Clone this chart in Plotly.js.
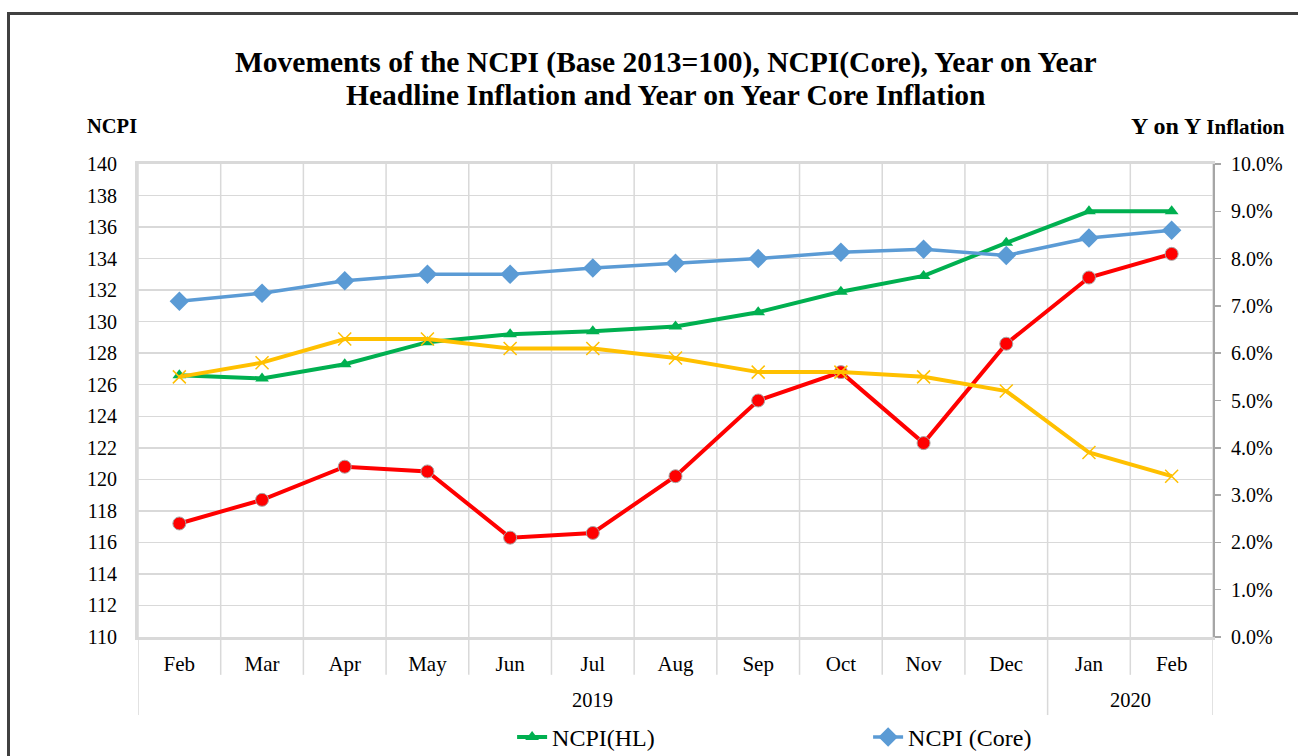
<!DOCTYPE html>
<html>
<head>
<meta charset="utf-8">
<script src="https://cdn.plot.ly/plotly-3.0.1.min.js"></script>
<style>
  html, body { margin: 0; padding: 0; background: #ffffff; overflow: hidden; width: 1298px; height: 756px; }
  #frame { position: absolute; left: 7px; top: 12px; width: 1400px; height: 900px; border: 3px solid #404040; box-sizing: border-box; pointer-events: none; z-index: 2; }
  #chart { position: absolute; left: 0; top: 0; width: 1298px; height: 756px; z-index: 1; }
</style>
</head>
<body>
<div id="frame"></div>
<div id="chart"></div>
<script>
// ---- data ----
const months = ["Feb","Mar","Apr","May","Jun","Jul","Aug","Sep","Oct","Nov","Dec","Jan","Feb"];
const years = [
  {label: "2019", first: 0, last: 10},
  {label: "2020", first: 11, last: 12}
];
const ncpiHL   = [126.6,126.4,127.3,128.7,129.2,129.4,129.7,130.6,131.9,132.9,135.0,137.0,137.0];
const ncpiCore = [131.3,131.8,132.6,133.0,133.0,133.4,133.7,134.0,134.4,134.6,134.2,135.3,135.8];
const yoyHL    = [2.4,2.9,3.6,3.5,2.1,2.2,3.4,5.0,5.6,4.1,6.2,7.6,8.1];   // %
const yoyCore  = [5.5,5.8,6.3,6.3,6.1,6.1,5.9,5.6,5.6,5.5,5.2,3.9,3.4];   // %
const seriesNames = ["NCPI(HL)", "NCPI (Core)", "Y on Y Headline Inflation", "Y on Y Core Inflation"];
const titleLines = ["Movements of the NCPI (Base 2013=100), NCPI(Core), Year on Year",
                    "Headline Inflation and Year on Year Core Inflation"];

// ---- build ----
const xs = months.map((m, i) => i);
const FONT = "Liberation Serif, 'Times New Roman', serif";
const pct = a => a.map(v => v / 100);

const traces = [
  {x: xs, y: ncpiHL, name: seriesNames[0], type: "scatter", mode: "lines+markers",
   line: {color: "#00b050", width: 4}, marker: {symbol: "triangle-up", size: 12, color: "#00b050"}},
  {x: xs, y: ncpiCore, name: seriesNames[1], type: "scatter", mode: "lines+markers",
   line: {color: "#5b9bd5", width: 3.5}, marker: {symbol: "diamond", size: 15, color: "#5b9bd5"}},
  {x: xs, y: pct(yoyHL), name: seriesNames[2], yaxis: "y2", type: "scatter", mode: "lines+markers", showlegend: false,
   line: {color: "#ff0000", width: 4}, marker: {symbol: "circle", size: 13, color: "#ff0000", line: {color: "#a6a6a6", width: 1}}},
  {x: xs, y: pct(yoyCore), name: seriesNames[3], yaxis: "y2", type: "scatter", mode: "lines+markers", showlegend: false,
   line: {color: "#ffc000", width: 4}, marker: {symbol: "x-thin", size: 13, color: "#ffc000", line: {color: "#ffc000", width: 1.5}}}
];

const shapes = [];
const n = months.length;
for (let i = 0; i <= n; i++) {
  shapes.push({type: "line", xref: "x", yref: "paper", x0: i - 0.5, x1: i - 0.5, y0: 0, y1: 1,
    line: {color: "#d9d9d9", width: 1.5}, layer: "below"});
}
const yearBounds = new Set();
years.forEach(y => { yearBounds.add(y.first - 0.5); yearBounds.add(y.last + 0.5); });
for (let i = 0; i <= n; i++) {
  const b = i - 0.5;
  shapes.push({type: "line", xref: "x", yref: "paper", x0: b, x1: b, y0: 0,
    y1: yearBounds.has(b) ? -0.165 : -0.08, line: {color: "#d9d9d9", width: 1.5}});
}

const annotations = [
  {text: "<b>" + titleLines[0] + "</b>", xref: "paper", yref: "paper", x: 0.4907, y: 1.2156, xanchor: "center", yanchor: "middle",
   showarrow: false, font: {family: FONT, size: 29.5, color: "#000"}},
  {text: "<b>" + titleLines[1] + "</b>", xref: "paper", yref: "paper", x: 0.4907, y: 1.1459, xanchor: "center", yanchor: "middle",
   showarrow: false, font: {family: FONT, size: 29.5, color: "#000"}},
  {text: "<b>NCPI</b>", xref: "paper", yref: "paper", x: -0.049, y: 1.08, xanchor: "left", yanchor: "middle",
   showarrow: false, font: {family: FONT, size: 20.5, color: "#000"}},
  {text: "<b>Y on Y <span style='font-size:21px'>Inflation</span></b>", xref: "paper", yref: "paper", x: 1.0688, y: 1.08,
   xanchor: "right", yanchor: "middle", showarrow: false, font: {family: FONT, size: 24, color: "#000"}}
];
years.forEach(y => annotations.push({
  text: y.label, xref: "x", yref: "paper", x: (y.first + y.last) / 2, y: -0.133, yanchor: "middle",
  showarrow: false, font: {family: FONT, size: 20.5, color: "#000"}
}));

const layout = {
  width: 1298, height: 756,
  margin: {l: 138, r: 85, t: 164, b: 119, autoexpand: false},
  paper_bgcolor: "rgba(0,0,0,0)", plot_bgcolor: "#ffffff",
  font: {family: FONT, size: 20, color: "#000"},
  xaxis: {range: [-0.5, n - 0.5], tickmode: "array", tickvals: xs, ticktext: months, showgrid: false,
    zeroline: false, showline: true, linecolor: "#d9d9d9", linewidth: 3, mirror: true,
    ticks: "", ticklabelstandoff: 6, tickfont: {family: FONT, size: 21, color: "#000"}, fixedrange: true},
  yaxis: {range: [110, 140], dtick: 2, tick0: 110, showgrid: true, gridcolor: "#d9d9d9", gridwidth: 1.5,
    zeroline: false, showline: true, linecolor: "#d9d9d9", linewidth: 3, ticks: "",
    ticklabelstandoff: 14, tickfont: {family: FONT, size: 20, color: "#000"}},
  yaxis2: {range: [0, 0.1], dtick: 0.01, tick0: 0, tickformat: ".1%", overlaying: "y", side: "right",
    showgrid: false, zeroline: false, showline: true, linecolor: "#a6a6a6", linewidth: 2,
    ticks: "outside", ticklen: 6, tickcolor: "#a6a6a6", tickwidth: 1.5, ticklabelstandoff: 6,
    tickfont: {family: FONT, size: 20, color: "#000"}},
  legend: {orientation: "h", x: 0.348, xanchor: "left", y: -0.212, yanchor: "middle", entrywidth: 311,
    font: {family: FONT, size: 24, color: "#000"}, bgcolor: "rgba(0,0,0,0)", traceorder: "normal"},
  shapes: shapes,
  annotations: annotations,
  showlegend: true
};

Plotly.newPlot("chart", traces, layout, {displayModeBar: false, staticPlot: true});
</script>
</body>
</html>
